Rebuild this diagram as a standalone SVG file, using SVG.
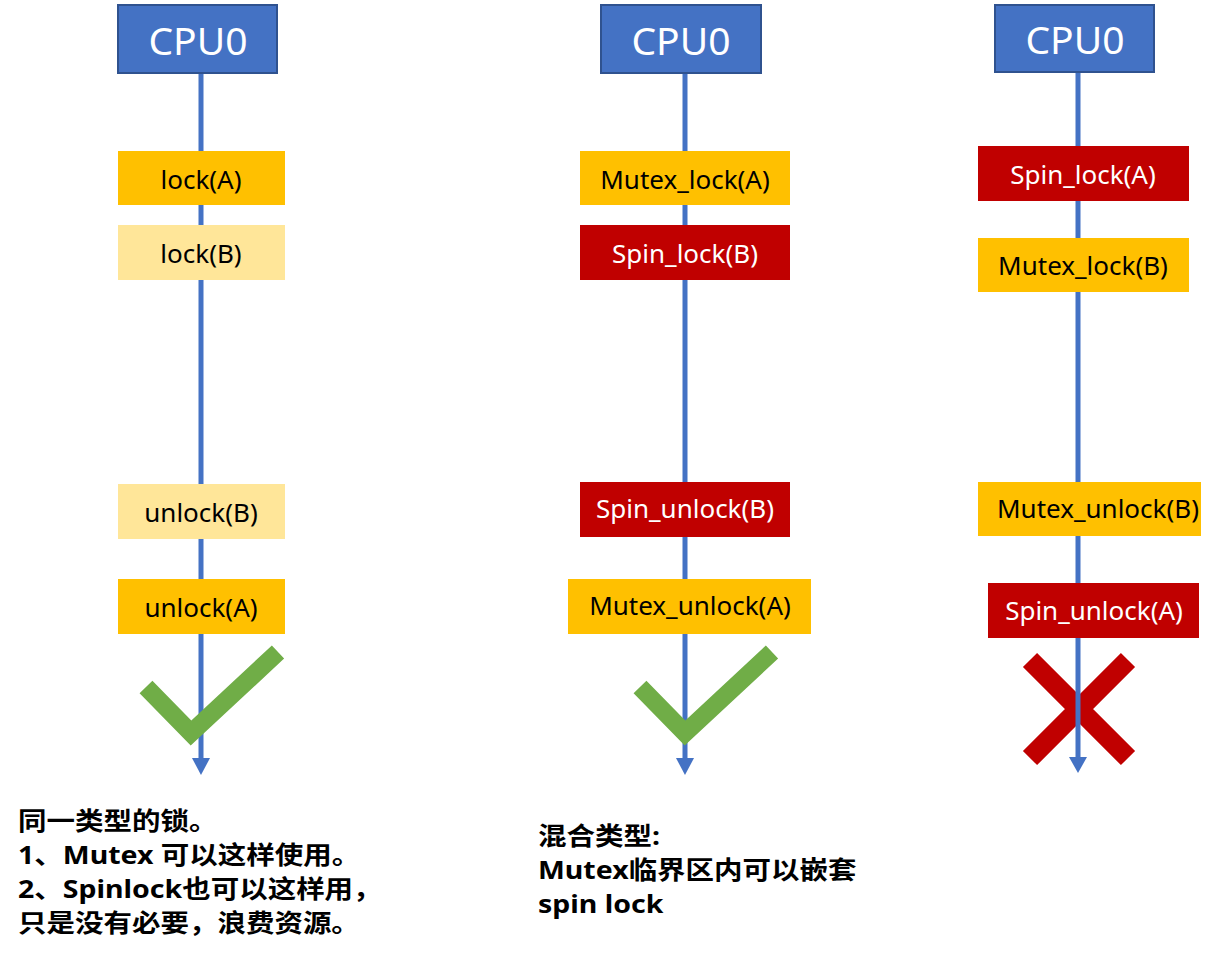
<svg xmlns="http://www.w3.org/2000/svg" width="1222" height="959" viewBox="0 0 1222 959">
<defs>
<style>
.cpu{fill:#4472C4;stroke:#2F528F;stroke-width:2}
.cpuT{fill:#fff;font-family:"Noto Sans","Noto Sans CJK SC",sans-serif;font-size:39px;text-anchor:middle}
.y{fill:#FFC000}
.ly{fill:#FFE699}
.r{fill:#C00000}
.t{font-family:"Noto Sans","Noto Sans CJK SC",sans-serif;font-size:26px;text-anchor:middle;fill:#000}
.tw{font-family:"Noto Sans","Noto Sans CJK SC",sans-serif;font-size:26px;text-anchor:middle;fill:#fff}
.line{stroke:#4472C4;stroke-width:5;fill:none}
.head{fill:#4472C4}
.ok{fill:none;stroke:#70AD47;stroke-width:18;stroke-linejoin:miter}
.no{fill:none;stroke:#C00000;stroke-width:20}
.note{font-family:"Noto Sans","Noto Sans CJK SC",sans-serif;font-size:25px;font-weight:bold;fill:#000}
</style>
</defs>
<rect width="1222" height="959" fill="#fff"/>
<g id="cross3"><path class="no" d="M1030,660 L1128,758 M1128,660 L1030,758"/></g>
<g id="connectors">
<line class="line" x1="201" y1="73" x2="201" y2="760"/>
<polygon class="head" points="192,758 210,758 201,775"/>
<line class="line" x1="685" y1="73" x2="685" y2="760"/>
<polygon class="head" points="676,758 694,758 685,775"/>
<line class="line" x1="1078" y1="72" x2="1078" y2="759"/>
<polygon class="head" points="1069,757 1087,757 1078,773"/>
</g>
<g id="col1">
<g id="cpu1"><rect class="cpu" x="118" y="5" width="159" height="68"/><text class="cpuT" x="198" y="55">CPU0</text></g>
<g id="lockA1"><rect class="y" x="118" y="151" width="167" height="54"/><text class="t" x="201" y="189">lock(A)</text></g>
<g id="lockB1"><rect class="ly" x="118" y="225" width="167" height="55"/><text class="t" x="201" y="263">lock(B)</text></g>
<g id="unlockB1"><rect class="ly" x="118" y="484" width="167" height="55"/><text class="t" x="201" y="522">unlock(B)</text></g>
<g id="unlockA1"><rect class="y" x="118" y="579" width="167" height="55"/><text class="t" x="201" y="617">unlock(A)</text></g>
<g id="check1"><polyline class="ok" points="146,687 191,733 278,652"/></g>
</g>
<g id="col2">
<g id="cpu2"><rect class="cpu" x="601" y="5" width="160" height="68"/><text class="cpuT" x="681" y="55">CPU0</text></g>
<g id="mlockA2"><rect class="y" x="580" y="151" width="210" height="54"/><text class="t" x="685" y="189">Mutex_lock(A)</text></g>
<g id="slockB2"><rect class="r" x="580" y="225" width="210" height="55"/><text class="tw" x="685" y="263">Spin_lock(B)</text></g>
<g id="sunlockB2"><rect class="r" x="580" y="482" width="210" height="55"/><text class="tw" x="685" y="518">Spin_unlock(B)</text></g>
<g id="munlockA2"><rect class="y" x="568" y="579" width="243" height="55"/><text class="t" x="690" y="615">Mutex_unlock(A)</text></g>
<g id="check2"><polyline class="ok" points="640,687 685,733 772,652"/></g>
</g>
<g id="col3">
<g id="cpu3"><rect class="cpu" x="995" y="5" width="159" height="67"/><text class="cpuT" x="1075" y="54">CPU0</text></g>
<g id="slockA3"><rect class="r" x="978" y="146" width="211" height="55"/><text class="tw" x="1083" y="184">Spin_lock(A)</text></g>
<g id="mlockB3"><rect class="y" x="978" y="238" width="211" height="54"/><text class="t" x="1083" y="275">Mutex_lock(B)</text></g>
<g id="munlockB3"><rect class="y" x="978" y="482" width="223" height="54"/><text class="t" x="1098" y="518">Mutex_unlock(B)</text></g>
<g id="sunlockA3"><rect class="r" x="988" y="583" width="211" height="55"/><text class="tw" x="1094" y="620">Spin_unlock(A)</text></g>
</g>
<g id="note1" transform="translate(18,0) scale(1.14,1) translate(-18,0)">
<text class="note" x="18" y="830">同一类型的锁。</text>
<text class="note" x="18" y="864">1、Mutex 可以这样使用。</text>
<text class="note" x="18" y="898">2、Spinlock也可以这样用，</text>
<text class="note" x="18" y="932">只是没有必要，浪费资源。</text>
</g>
<g id="note2" transform="translate(538,0) scale(1.14,1) translate(-538,0)">
<text class="note" x="538" y="845">混合类型:</text>
<text class="note" x="538" y="879">Mutex临界区内可以嵌套</text>
<text class="note" x="538" y="913">spin lock</text>
</g>
</svg>
